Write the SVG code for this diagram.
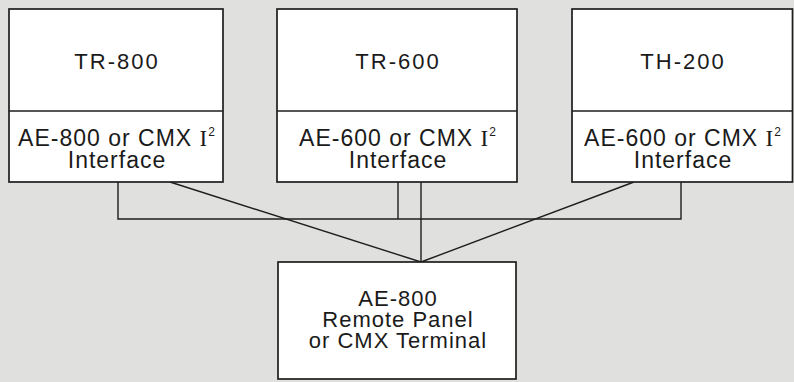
<svg xmlns="http://www.w3.org/2000/svg" width="794" height="382" viewBox="0 0 794 382">
<style>
.box{fill:#fff;stroke:#1e1e1e;stroke-width:1.7}
.div{stroke:#1e1e1e;stroke-width:1.7}
.t{font-family:"Liberation Sans",Arial,sans-serif;font-size:23px;fill:#1a1a1a;text-anchor:middle;letter-spacing:1px}
.h{font-family:"Liberation Sans",Arial,sans-serif;font-size:22px;fill:#1a1a1a;text-anchor:middle;letter-spacing:2px}
.s{font-family:"Liberation Sans",Arial,sans-serif;font-size:22px;fill:#1a1a1a;text-anchor:middle;letter-spacing:1px}
.i{font-family:"Liberation Serif","Times New Roman",serif}
.sup{font-size:12px}
.c{fill:none;stroke:#1e1e1e;stroke-width:1.4}
</style>
<rect width="794" height="382" fill="#e0e0df"/>
<g id="connectors">
<polyline class="c" points="118,182 118,219 681,219 681,182"/>
<line class="c" x1="398" y1="182" x2="398" y2="219"/>
<line class="c" x1="421" y1="182" x2="421" y2="262"/>
<line class="c" x1="170" y1="182" x2="421" y2="262"/>
<line class="c" x1="634" y1="182" x2="421" y2="262"/>
</g>
<g id="tr800">
<rect class="box" x="9" y="9" width="214" height="173"/>
<line class="div" x1="9" y1="111" x2="223" y2="111"/>
<text class="h" x="117" y="69">TR-800</text>
<text class="t" x="117" y="146">AE-800 or CMX <tspan class="i">I</tspan><tspan class="sup" dy="-10">2</tspan></text>
<text class="t" x="117" y="168">Interface</text>
</g>
<g id="tr600">
<rect class="box" x="277" y="9" width="240" height="173"/>
<line class="div" x1="277" y1="111" x2="517" y2="111"/>
<text class="h" x="398" y="69">TR-600</text>
<text class="t" x="398" y="146">AE-600 or CMX <tspan class="i">I</tspan><tspan class="sup" dy="-10">2</tspan></text>
<text class="t" x="398" y="168">Interface</text>
</g>
<g id="th200">
<rect class="box" x="572" y="9" width="220.5" height="173"/>
<line class="div" x1="572" y1="111" x2="792.5" y2="111"/>
<text class="h" x="683" y="69">TH-200</text>
<text class="t" x="683" y="146">AE-600 or CMX <tspan class="i">I</tspan><tspan class="sup" dy="-10">2</tspan></text>
<text class="t" x="683" y="168">Interface</text>
</g>
<g id="remote">
<rect class="box" x="278" y="262" width="238" height="117"/>
<text class="s" x="398" y="306">AE-800</text>
<text class="s" x="398" y="327">Remote Panel</text>
<text class="s" x="398" y="348">or CMX Terminal</text>
</g>
</svg>
